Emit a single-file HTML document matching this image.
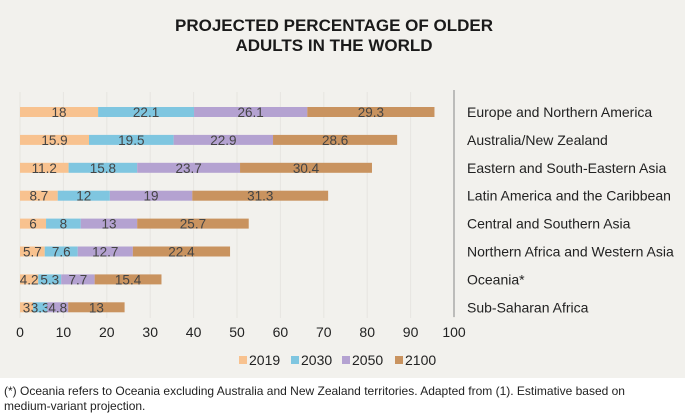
<!DOCTYPE html>
<html><head><meta charset="utf-8"><style>
html,body{margin:0;padding:0;background:#fff;}
body{width:685px;height:416px;overflow:hidden;font-family:"Liberation Sans",Arial,sans-serif;}
#chart{position:absolute;left:0;top:0;width:685px;height:378px;background:#f2f1ed;}
#note{position:absolute;left:4px;top:384px;width:680px;font-size:12px;line-height:15px;color:#222;}
</style></head><body>
<div id="chart">
<svg id="svg" width="685" height="378">
<text x="334" y="31" text-anchor="middle" font-size="17" font-weight="bold" fill="#1a1a1a">PROJECTED PERCENTAGE OF OLDER</text>
<text x="334" y="51" text-anchor="middle" font-size="17" font-weight="bold" fill="#1a1a1a">ADULTS IN THE WORLD</text>
<g id="grid"></g><g id="bars"></g><g id="axis"></g><g id="legend"></g>
</svg>
</div>
<div id="note">(*) Oceania refers to Oceania excluding Australia and New Zealand territories. Adapted from (1). Estimative based on<br>medium-variant projection.</div>
<script>
const categories=["Europe and Northern America","Australia/New Zealand","Eastern and South-Eastern Asia","Latin America and the Caribbean","Central and Southern Asia","Northern Africa and Western Asia","Oceania*","Sub-Saharan Africa"];
const seriesNames=["2019","2030","2050","2100"];
const v2019=[18,15.9,11.2,8.7,6,5.7,4.2,3];
const v2030=[22.1,19.5,15.8,12,8,7.6,5.3,3.3];
const v2050=[26.1,22.9,23.7,19,13,12.7,7.7,4.8];
const v2100=[29.3,28.6,30.4,31.3,25.7,22.4,15.4,13];
const ticks=[0,10,20,30,40,50,60,70,80,90,100];
const colors=["#f8c28f","#7fc6e0","#b4a2d1","#c9935f"];
const NS="http://www.w3.org/2000/svg";
const x0=20,x1=454,xmax=100;
const X=v=>x0+(x1-x0)*v/xmax;
const rowY0=112,rowStep=27.9,barH=10;
const Y=i=>rowY0+i*rowStep;
function mk(t,a,p){const e=document.createElementNS(NS,t);for(const k in a)e.setAttribute(k,a[k]);p.appendChild(e);return e;}
const grid=document.getElementById('grid'),bars=document.getElementById('bars'),axis=document.getElementById('axis'),legend=document.getElementById('legend');
ticks.forEach(t=>{
 const l=mk('line',{x1:X(t),x2:X(t),y1:92,y2:318,stroke:'#e6e5e0','stroke-width':1},grid);
 
 
 const tx=mk('text',{x:X(t),y:337,'text-anchor':'middle','font-size':14,fill:'#222'},axis);
 tx.textContent=t;
 
 
});
const vl=mk('line',{x1:x1,x2:x1,y1:90,y2:317,stroke:'#aaa','stroke-width':1.5},axis);


const series=[v2019,v2030,v2050,v2100];
categories.forEach((c,i)=>{
 let acc=0;
 series.forEach((s,k)=>{
  const v=s[i];
  const r=mk('rect',{x:X(acc),y:Y(i)-barH/2,width:X(acc+v)-X(acc),height:barH,fill:colors[k]},bars);
  
  
  const t=mk('text',{x:(X(acc)+X(acc+v))/2,y:Y(i)+5,'text-anchor':'middle','font-size':13.5,fill:'#444'},bars);
  t.textContent=v;
  
  
  acc+=v;
 });
 const ct=mk('text',{x:467,y:Y(i)+5,'font-size':14,fill:'#222'},axis);
 ct.textContent=c;
 
 
});
const lx=[239,291,342,395];
seriesNames.forEach((n,k)=>{
 const r=mk('rect',{x:lx[k],y:356,width:8,height:8,fill:colors[k]},legend);
 
 
 const t=mk('text',{x:lx[k]+10,y:365,'font-size':14,fill:'#222'},legend);
 t.textContent=n;
 
 
});
</script>
</body></html>
